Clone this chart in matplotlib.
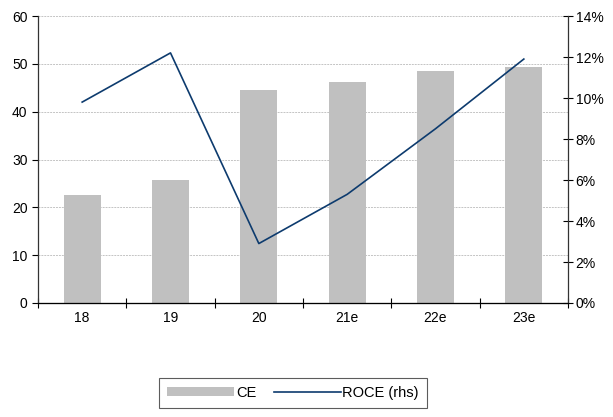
import numpy as np
import matplotlib.pyplot as plt
from matplotlib.ticker import FuncFormatter

plt.rcParams['font.family'] = ['Liberation Sans', 'DejaVu Sans']

years = ['18', '19', '20', '21e', '22e', '23e']
ce = [22.6, 25.7, 44.6, 46.2, 48.5, 49.4]
roce = [9.8, 12.2, 2.9, 5.3, 8.5, 11.9]

fig = plt.figure(figsize=(6.13, 4.17), dpi=100)
ax = fig.add_axes([38/613, 1 - 303/417, 530/613, 287/417])
ax2 = ax.twinx()

x = np.arange(len(years))
bars = ax.bar(x, ce, width=0.42, color='#c0c0c0', label='CE', zorder=2)
line, = ax2.plot(x, roce, color='#0d3b6e', lw=1.2, label='ROCE (rhs)')

ax.set_xlim(-0.5, len(years) - 0.5)
ax.set_ylim(0, 60)
ax.set_yticks(range(0, 61, 10))
ax2.set_ylim(0, 14)
ax2.set_yticks(range(0, 15, 2))
ax2.yaxis.set_major_formatter(FuncFormatter(lambda v, p: f'{v:.0f}%'))

ax.set_xticks(x)
ax.set_xticklabels(years)
ax.set_xticks(np.arange(-0.5, len(years)), minor=True)
ax.tick_params(axis='x', which='major', length=0, pad=6, labelsize=10)
ax.tick_params(axis='x', which='minor', direction='inout', length=7, width=0.8)
ax.tick_params(axis='y', direction='out', length=4, width=0.8, labelsize=10)
ax2.tick_params(axis='y', direction='inout', length=7, width=0.8, labelsize=10, pad=2)

ax.grid(axis='y', color='#c4c4c4', linestyle=(0, (2, 1)), lw=0.7, zorder=0)
ax.set_axisbelow(True)
for s in ['top']:
    ax.spines[s].set_visible(False)
    ax2.spines[s].set_visible(False)
ax2.spines['left'].set_visible(False)
ax.spines['right'].set_visible(False)
for sp in [ax.spines['left'], ax.spines['bottom'], ax2.spines['right']]:
    sp.set_color('#333333')
    sp.set_linewidth(0.9)

leg = fig.legend([bars, line], ['CE', 'ROCE (rhs)'], loc='center',
                 bbox_to_anchor=(293/613, 1 - 393/417), ncol=2, frameon=True,
                 fancybox=False, edgecolor='#333333', fontsize=10.5,
                 handlelength=4.6, handleheight=0.6, columnspacing=1.2,
                 handletextpad=0.1, borderpad=0.55, borderaxespad=0)
leg.get_frame().set_linewidth(0.8)

fig.savefig('out.png', dpi=100)
